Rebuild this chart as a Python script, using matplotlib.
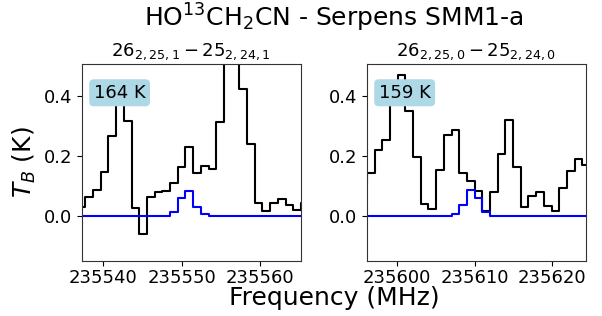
import matplotlib
matplotlib.use("Agg")
import matplotlib.pyplot as plt

# ---- data ----
freq_left = [235537.21, 235538.19, 235539.18, 235540.16, 235541.14, 235542.13,
             235543.11, 235544.09, 235545.07, 235546.06, 235547.04, 235548.02,
             235549.01, 235549.99, 235550.97, 235551.96, 235552.94, 235553.92,
             235554.90, 235555.89, 235556.87, 235557.85, 235558.84, 235559.82,
             235560.80, 235561.79, 235562.77, 235563.75, 235564.73, 235565.72]
obs_left = [0.030, 0.063, 0.086, 0.147, 0.267, 0.400, 0.317, 0.027, -0.062, 0.063,
            0.080, 0.083, 0.108, 0.161, 0.228, 0.141, 0.167, 0.156, 0.313, 0.750,
            0.650, 0.424, 0.238, 0.044, 0.016, 0.041, 0.056, 0.036, 0.019, 0.043]
model_left = [0, 0, 0, 0, 0, 0, 0, 0, 0, 0, 0, 0, 0.011, 0.060, 0.082, 0.028,
              0.006, 0, 0, 0, 0, 0, 0, 0, 0, 0, 0, 0, 0, 0]

freq_right = [235595.59, 235596.58, 235597.57, 235598.57, 235599.56, 235600.55,
              235601.54, 235602.54, 235603.53, 235604.52, 235605.51, 235606.51,
              235607.50, 235608.49, 235609.48, 235610.47, 235611.47, 235612.46,
              235613.45, 235614.44, 235615.44, 235616.43, 235617.42, 235618.41,
              235619.41, 235620.40, 235621.39, 235622.38, 235623.37, 235624.37]
obs_right = [0.110, 0.141, 0.219, 0.252, 0.410, 0.469, 0.349, 0.197, 0.038, 0.021,
             0.152, 0.269, 0.286, 0.141, 0.116, 0.082, 0.016, 0.078, 0.206, 0.319,
             0.163, 0.028, 0.067, 0.080, 0.032, 0.017, 0.091, 0.150, 0.189, 0.169]
model_right = [0, 0, 0, 0, 0, 0, 0, 0, 0, 0, 0, 0, 0.005, 0.036, 0.086, 0.058,
               0.011, 0, 0, 0, 0, 0, 0, 0, 0, 0, 0, 0, 0, 0]

titles = [r"$26_{2,25,1}-25_{2,24,1}$", r"$26_{2,25,0}-25_{2,24,0}$"]
temps = ["164 K", "159 K"]
xlims = [(235537.24, 235565.2), (235596.05, 235624.35)]
xticks = [[235540, 235550, 235560], [235600, 235610, 235620]]
yticks = [0.0, 0.2, 0.4]
ylim = (-0.15, 0.505)

fig = plt.figure(figsize=(6.02, 3.16), dpi=100)
ax1 = fig.add_axes([0.1357, 0.175, 0.3638, 0.6215])
ax2 = fig.add_axes([0.6091, 0.175, 0.3643, 0.6215])

panels = [(ax1, freq_left, obs_left, model_left),
          (ax2, freq_right, obs_right, model_right)]
for k, (ax, f, o, m) in enumerate(panels):
    ax.step(f, o, where="mid", color="black", lw=1.5)
    ax.step(f, m, where="mid", color="blue", lw=1.5)
    ax.set_xlim(*xlims[k])
    ax.set_ylim(*ylim)
    ax.set_xticks(xticks[k])
    ax.set_xticklabels([str(t) for t in xticks[k]])
    ax.set_yticks(yticks)
    ax.set_yticklabels(["%.1f" % t for t in yticks])
    ax.tick_params(labelsize=13)
    ax.tick_params(axis="x", pad=2.5)
    ax.set_title(titles[k], fontsize=13)
    ax.text(0.055, 0.855, temps[k], transform=ax.transAxes, fontsize=13,
            va="center", ha="left", zorder=10,
            bbox=dict(boxstyle="round,pad=0.25", facecolor="lightblue",
                      edgecolor="none"))
    for s in ax.spines.values():
        s.set_color("#333333")

ax1.set_ylabel(r"$T_B$ (K)", fontsize=18)
fig.text(0.5547, 0.9146, r"HO$^{13}$CH$_2$CN - Serpens SMM1-a", fontsize=18,
         ha="center", va="baseline")
fig.text(0.5547, 0.036, "Frequency (MHz)", fontsize=18, ha="center",
         va="baseline")

fig.savefig("out.png", dpi=100)
